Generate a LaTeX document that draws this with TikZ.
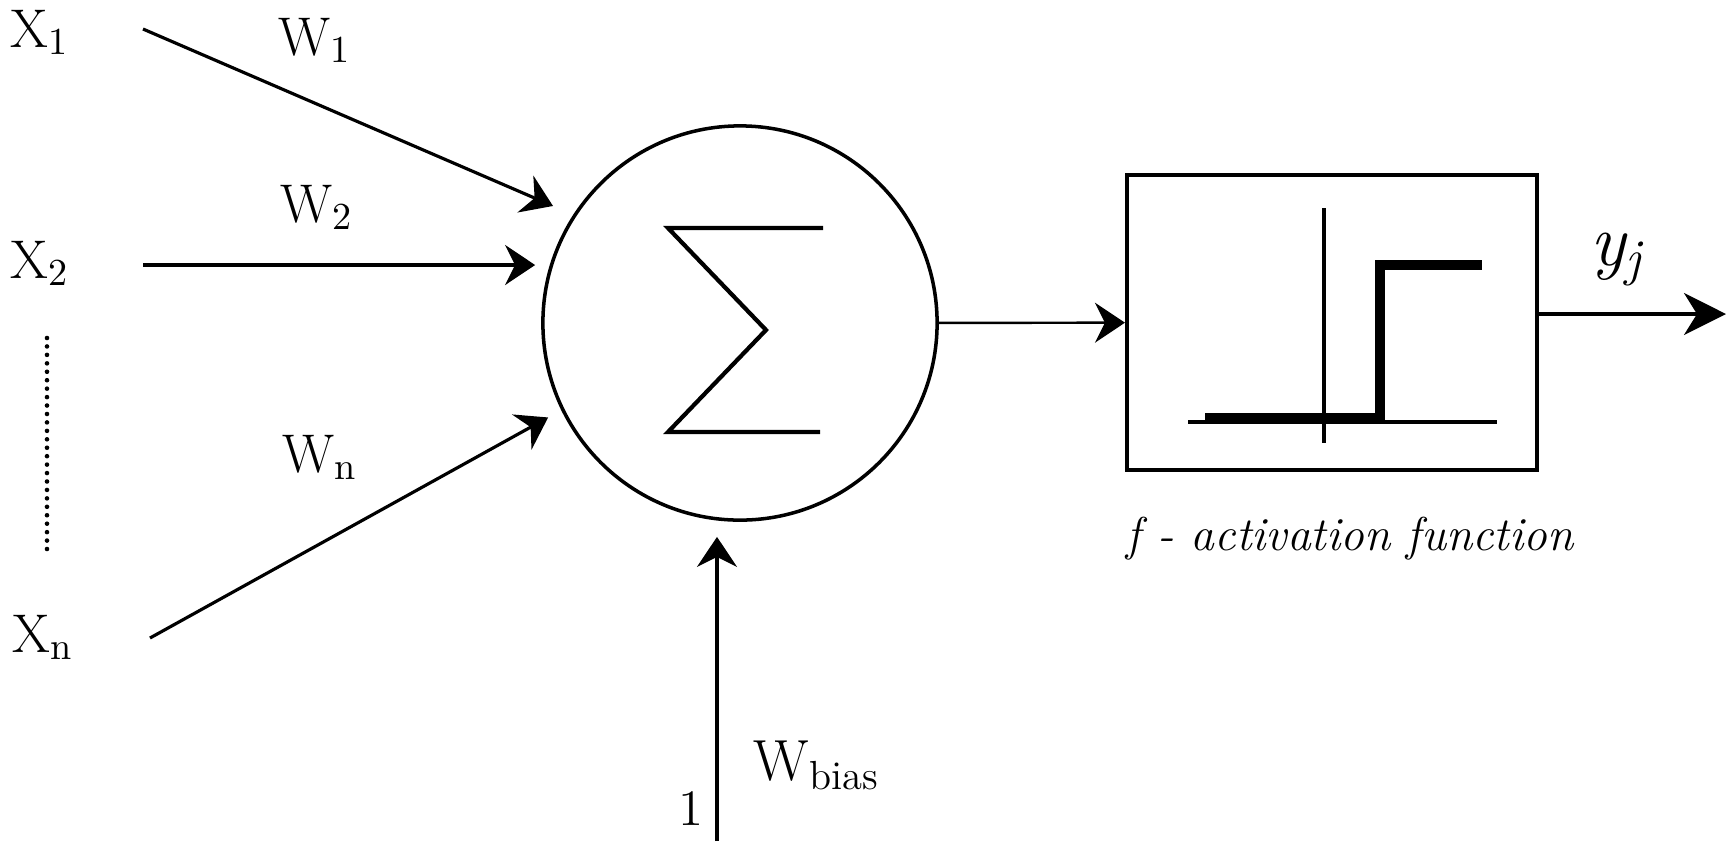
\documentclass[tikz,border=0pt]{standalone}
\usepackage{tikz}
\usetikzlibrary{arrows.meta, positioning, calc}

\begin{document}
\begin{tikzpicture}[
  x=0.01cm, y=-0.01cm,
  lbl/.style={inner sep=0pt, anchor=base west, font=\fontsize{15.5}{19}\selectfont},
  neuron/.style={circle, draw, line width=1pt, minimum size=3.94cm, inner sep=0pt},
  actbox/.style={rectangle, draw, line width=1.1pt, minimum width=4.1cm,
                 minimum height=2.95cm, inner sep=0pt},
  arrow/.style={-{Stealth[length=0.3cm, width=0.4cm, inset=0.1cm]}, line width=0.9pt},
  bigarrow/.style={-{Stealth[length=0.42cm, width=0.42cm, inset=0.13cm]}, line width=0.9pt},
  axis/.style={line width=0.9pt},
  stepfn/.style={line width=2.6pt},
]
\useasboundingbox (0,0) rectangle (1729,841);

\node[neuron] (sum) at (740,323) {};
\node[actbox] (act) at (1332,322.5) {};

\draw[line width=1.2pt] ($(sum)+(83,-95)$) -- ++(-155,0) -- ++(98,102)
  -- ++(-98,102) -- ++(152,0);

\draw[axis] ($(act)+(-8,-114.5)$) -- ++(0,235);
\draw[axis] ($(act)+(-144,99.5)$) -- ++(309,0);
\draw[stepfn] ($(act)+(-127,95.5)$) -- ++(175,0) -- ++(0,-153) -- ++(102,0);

\node[lbl] (x1) at (10,47)  {X\textsubscript{1}};
\node[lbl] (x2) at (10,278) {X\textsubscript{2}};
\node[lbl] (xn) at (12,652) {X\textsubscript{n}};
\node[lbl] (w1) at (278,55)  {W\textsubscript{1}};
\node[lbl] (w2) at (280,222) {W\textsubscript{2}};
\node[lbl] (wn) at (282,472) {W\textsubscript{n}};

\coordinate (in1) at (143,29);
\coordinate (in2) at (143,265);
\coordinate (inn) at (150,638);
\draw[arrow, shorten >=0.22cm] (in1) -- (sum.147.5);
\draw[arrow, shorten >=0.06cm] (in2) -- (in2 -| sum.west);
\draw[arrow, shorten >=0.15cm] (inn) -- (sum.206.6);
\draw[line width=1.3pt, line cap=round, dash pattern=on 0pt off 2.4pt] (47,338) -- (47,556);

\draw[arrow, line width=0.7pt] (sum) -- (act);

\coordinate (yout) at (1726,314);
\draw[bigarrow] (act.east |- yout) -- (yout);
\node[lbl, font=\fontsize{21}{25}\selectfont\itshape] (yj) at (1590,265) {y\textsubscript{j}};

\coordinate (bin) at (717,841);
\draw[arrow, shorten >=0.15cm] (bin) -- (bin |- sum.south);
\node[lbl, font=\fontsize{14.5}{18}\selectfont] (onelbl) at (678,825) {1};
\node[lbl, font=\fontsize{16.5}{20}\selectfont] (wbias) at (753,780) {W\textsubscript{bias}};

\node[inner sep=0pt, anchor=base, font=\fontsize{13.5}{16}\selectfont\itshape] (cap)
  at (1350,550) {f - activation function};
\end{tikzpicture}
\end{document}
